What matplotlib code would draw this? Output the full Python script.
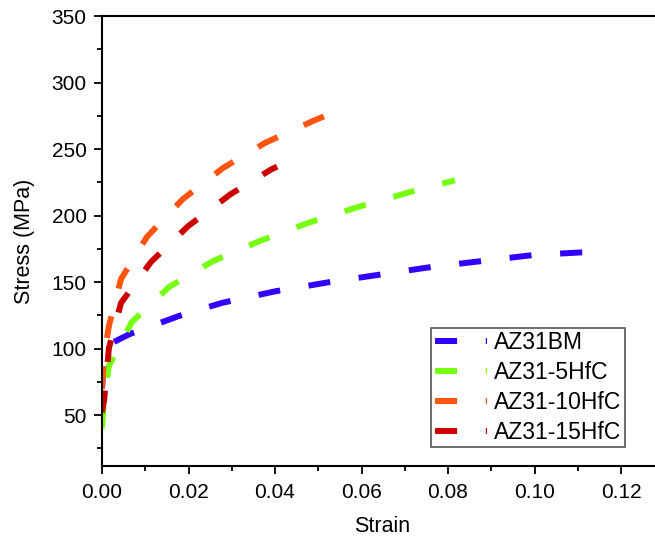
import matplotlib
matplotlib.use("Agg")
import matplotlib.pyplot as plt
from matplotlib.ticker import MultipleLocator

plt.rcParams['font.family'] = ['Liberation Sans', 'DejaVu Sans']

# Data
LABELS = ["AZ31BM", "AZ31-5HfC", "AZ31-10HfC", "AZ31-15HfC"]
COLORS = ["#3300FF", "#77FF11", "#FF5511", "#CC0000"]

bm_strain = [0.0, 0.0005, 0.0015, 0.0065, 0.0178, 0.0277, 0.040, 0.0527, 0.0761, 0.0997, 0.1126]
bm_stress = [70, 90, 103, 111, 124.5, 134.3, 143, 150, 161.3, 170.3, 172.6]

hfc5_strain = [0.0, 0.0005, 0.0016, 0.0069, 0.0155, 0.0257, 0.0365, 0.0476, 0.0592, 0.0705, 0.0816]
hfc5_stress = [40, 62, 87, 120, 146.3, 165.8, 180.9, 194.4, 206.4, 217, 226.5]

hfc10_strain = [0.0, 0.0005, 0.0016, 0.0044, 0.0104, 0.0187, 0.028, 0.0377, 0.0488, 0.0513]
hfc10_stress = [70, 95, 117, 152.3, 184, 212.4, 235.8, 254.6, 271.1, 274.5]

hfc15_strain = [0.0, 0.0005, 0.0016, 0.0044, 0.0113, 0.0199, 0.0298, 0.0393, 0.0405]
hfc15_stress = [52, 61.3, 100.4, 134.3, 165, 192, 216.2, 235, 236.7]

series = [(bm_strain, bm_stress), (hfc5_strain, hfc5_stress),
          (hfc10_strain, hfc10_stress), (hfc15_strain, hfc15_stress)]

fig = plt.figure(figsize=(6.55, 5.40), dpi=100)
ax = fig.add_axes([102 / 655, 1 - 466 / 540, 560 / 655, 450 / 540])

for (x, y), lab, col in zip(series, LABELS, COLORS):
    ax.plot(x, y, color=col, lw=4.3, ls=(0, (3.7, 4.8)), dash_capstyle='butt', label=lab)

ax.set_xlim(0, 560 / 4325)
ax.set_ylim(11.7, 350)
ax.xaxis.set_major_locator(MultipleLocator(0.02))
ax.xaxis.set_minor_locator(MultipleLocator(0.01))
ax.yaxis.set_minor_locator(MultipleLocator(25))
ax.set_yticks([50, 100, 150, 200, 250, 300, 350])
ax.xaxis.set_major_formatter(matplotlib.ticker.FormatStrFormatter('%.2f'))
ax.tick_params(which='major', direction='out', length=6, width=1.3, labelsize=15)
ax.tick_params(axis='y', which='major', pad=5)
ax.tick_params(axis='x', which='major', pad=6)
ax.tick_params(which='minor', direction='out', length=3.5, width=1.3)
for s in ax.spines.values():
    s.set_linewidth(1.5)

ax.set_xlabel("Strain", fontsize=15.5, labelpad=10)
ax.set_ylabel("Stress (MPa)", fontsize=15.5, labelpad=12)

leg = ax.legend(loc='lower left', bbox_to_anchor=(0.588, 0.042), borderaxespad=0,
                fontsize=16.5, handlelength=2.3, handletextpad=0.3, labelspacing=0.3,
                fancybox=False, edgecolor='#555555', framealpha=1, borderpad=0.15)
leg.get_frame().set_linewidth(1.2)

fig.savefig("out.png", dpi=100)
